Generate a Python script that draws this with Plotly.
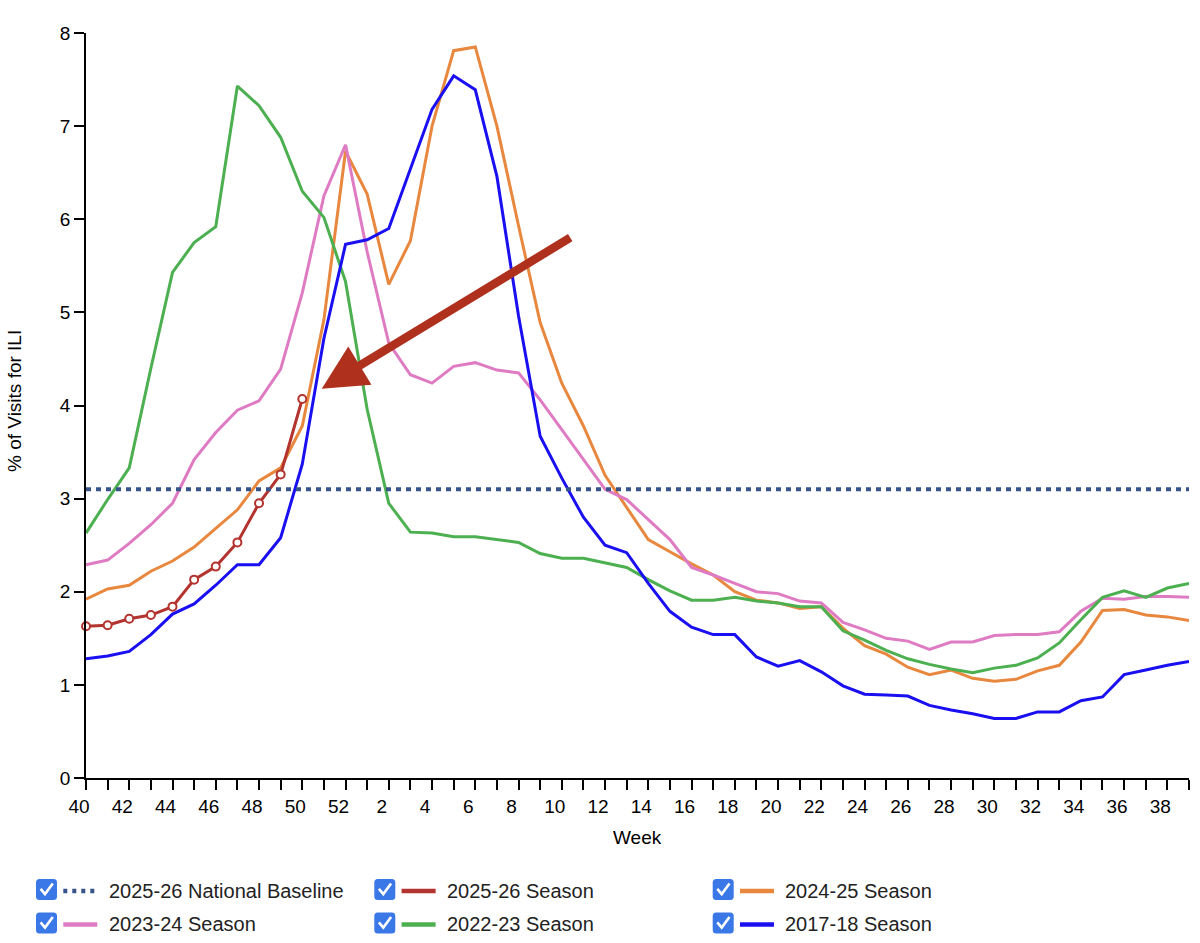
import plotly.graph_objects as go

# x categories: MMWR weeks 40..52 then 1..39
weeks = [str(w) for w in list(range(40, 53)) + list(range(1, 40))]
tick_text = [w if int(w) % 2 == 0 else "" for w in weeks]

baseline_2025_26 = 3.1

season_2025_26 = [1.63, 1.64, 1.71, 1.75, 1.84, 2.13, 2.27, 2.53, 2.95, 3.26, 4.07]

season_2024_25 = [1.92, 2.03, 2.07, 2.22, 2.33, 2.48, 2.68, 2.88, 3.19, 3.33, 3.78,
                  4.92, 6.73, 6.27, 5.30, 5.77, 7.00, 7.81, 7.85, 7.00, 5.93, 4.89,
                  4.24, 3.78, 3.25, 2.91, 2.56, 2.43, 2.30, 2.18, 2.00, 1.91, 1.88,
                  1.82, 1.84, 1.61, 1.42, 1.33, 1.19, 1.11, 1.16, 1.07, 1.04, 1.06,
                  1.15, 1.21, 1.46, 1.80, 1.81, 1.75, 1.73, 1.69]

season_2023_24 = [2.29, 2.34, 2.52, 2.72, 2.95, 3.42, 3.71, 3.95, 4.05, 4.39, 5.21,
                  6.25, 6.80, 5.65, 4.67, 4.33, 4.24, 4.42, 4.46, 4.38, 4.35, 4.06,
                  3.74, 3.42, 3.10, 2.99, 2.77, 2.56, 2.26, 2.18, 2.09, 2.00, 1.98,
                  1.90, 1.88, 1.67, 1.59, 1.50, 1.47, 1.38, 1.46, 1.46, 1.53, 1.54,
                  1.54, 1.57, 1.79, 1.93, 1.92, 1.95, 1.95, 1.94]

season_2022_23 = [2.63, 2.99, 3.33, 4.40, 5.43, 5.75, 5.92, 7.43, 7.22, 6.88, 6.30,
                  6.02, 5.33, 3.96, 2.95, 2.64, 2.63, 2.59, 2.59, 2.56, 2.53, 2.41,
                  2.36, 2.36, 2.31, 2.26, 2.13, 2.01, 1.91, 1.91, 1.94, 1.90, 1.88,
                  1.84, 1.84, 1.58, 1.48, 1.37, 1.28, 1.22, 1.17, 1.13, 1.18, 1.21,
                  1.29, 1.45, 1.70, 1.94, 2.01, 1.94, 2.04, 2.09]

season_2017_18 = [1.28, 1.31, 1.36, 1.54, 1.76, 1.87, 2.07, 2.29, 2.29, 2.58, 3.37,
                  4.72, 5.73, 5.78, 5.90, 6.53, 7.18, 7.54, 7.39, 6.46, 4.96, 3.67,
                  3.22, 2.80, 2.50, 2.42, 2.09, 1.79, 1.62, 1.54, 1.54, 1.30, 1.20,
                  1.26, 1.14, 0.99, 0.90, 0.89, 0.88, 0.78, 0.73, 0.69, 0.64, 0.64,
                  0.71, 0.71, 0.83, 0.87, 1.11, 1.16, 1.21, 1.25]

legend_names = ["2025-26 National Baseline", "2025-26 Season", "2024-25 Season",
                "2023-24 Season", "2022-23 Season", "2017-18 Season"]

COLORS = {
    "2025-26 National Baseline": "#36538a",
    "2025-26 Season": "#b3332e",
    "2024-25 Season": "#e8873e",
    "2023-24 Season": "#df7bc3",
    "2022-23 Season": "#4caf50",
    "2017-18 Season": "#1a0ff0",
}

TICK_FONT = dict(family="Liberation Sans Narrow, Arial Narrow, Liberation Sans, Arial",
                 size=19, color="black")
TEXT_FONT = "Helvetica Neue, Liberation Sans, Arial, sans-serif"

# plot area in page pixels
L, R, T, B = 86, 1189, 33, 778
W, H = 1200, 943


def px(x):
    return (x - L) / (R - L)


def py(y):
    return (B - y) / (B - T)


fig = go.Figure()

series = [
    ("2024-25 Season", season_2024_25),
    ("2023-24 Season", season_2023_24),
    ("2022-23 Season", season_2022_23),
    ("2017-18 Season", season_2017_18),
]
for name, vals in series:
    fig.add_scatter(x=weeks, y=vals, mode="lines", name=name,
                    line=dict(color=COLORS[name], width=3), hoverinfo="x+y+name")

fig.add_scatter(x=weeks[:len(season_2025_26)], y=season_2025_26, mode="lines+markers",
                name="2025-26 Season", cliponaxis=False,
                line=dict(color=COLORS["2025-26 Season"], width=3),
                marker=dict(symbol="circle", size=8, color="white",
                            line=dict(color=COLORS["2025-26 Season"], width=2)))

fig.add_scatter(x=weeks, y=[baseline_2025_26] * len(weeks), mode="lines",
                name="2025-26 National Baseline",
                line=dict(color=COLORS["2025-26 National Baseline"], width=4, dash="5px,5px"))

# big red arrow pointing at the current season
fig.add_annotation(x=10.9, y=4.18, xref="x", yref="y", ax=250, ay=-152,
                   text="", showarrow=True, arrowhead=2, arrowsize=1.05,
                   arrowwidth=8.5, arrowcolor="#b0301e")

# axis titles
fig.add_annotation(x=0.5, y=py(838), xref="paper", yref="paper", text="Week",
                   showarrow=False, xanchor="center", yanchor="middle",
                   font=dict(family=TEXT_FONT, size=19, color="black"))
fig.add_annotation(x=px(14), y=py(401), xref="paper", yref="paper",
                   text="% of Visits for ILI", textangle=-90, showarrow=False,
                   xanchor="center", yanchor="middle",
                   font=dict(family=TEXT_FONT, size=19, color="black"))

# legend with checkboxes, drawn by hand (3 columns x 2 rows)
col_left = [36, 374.3, 712.7]
row_mid = [889.5, 923]
box = 21
for k, name in enumerate(legend_names):
    x0 = col_left[k % 3]
    yc = row_mid[k // 3]
    y0, y1 = yc - box / 2, yc + box / 2
    r = 3.5
    path = (f"M{px(x0 + r)},{py(y0)} L{px(x0 + box - r)},{py(y0)} "
            f"Q{px(x0 + box)},{py(y0)} {px(x0 + box)},{py(y0 + r)} "
            f"L{px(x0 + box)},{py(y1 - r)} "
            f"Q{px(x0 + box)},{py(y1)} {px(x0 + box - r)},{py(y1)} "
            f"L{px(x0 + r)},{py(y1)} Q{px(x0)},{py(y1)} {px(x0)},{py(y1 - r)} "
            f"L{px(x0)},{py(y0 + r)} Q{px(x0)},{py(y0)} {px(x0 + r)},{py(y0)} Z")
    fig.add_shape(type="path", path=path, xref="paper", yref="paper",
                  fillcolor="#3a78e8", line=dict(width=0), layer="above")
    check = (f"M{px(x0 + 4.6)},{py(yc - 0.6)} L{px(x0 + 9)},{py(yc + 4.6)} "
             f"L{px(x0 + 16.8)},{py(yc - 6)}")
    fig.add_shape(type="path", path=check, xref="paper", yref="paper",
                  line=dict(color="white", width=2.6), layer="above")
    dash = "4px,5px" if "Baseline" in name else "solid"
    fig.add_shape(type="line", xref="paper", yref="paper",
                  x0=px(x0 + 27.3), x1=px(x0 + 61.3), y0=py(yc + 1.5), y1=py(yc + 1.5),
                  line=dict(color=COLORS[name], width=4.5, dash=dash))
    fig.add_annotation(x=px(x0 + 70.7), y=py(yc + 1), xref="paper", yref="paper",
                       text=name, showarrow=False, xanchor="left", yanchor="middle",
                       font=dict(family=TEXT_FONT, size=20, color="#222222"))

fig.update_layout(
    width=W, height=H,
    margin=dict(l=L, r=W - R, t=T, b=H - B, pad=0),
    plot_bgcolor="white", paper_bgcolor="white",
    showlegend=False,
    font=dict(family=TEXT_FONT, color="black"),
    xaxis=dict(type="category", range=[0, len(weeks) - 1],
               tickvals=weeks, ticktext=tick_text, tickfont=TICK_FONT,
               ticks="outside", ticklen=10, tickwidth=1.5, tickcolor="black",
               ticklabelshift=-7,
               showline=True, linecolor="black", linewidth=2,
               showgrid=False, zeroline=False),
    yaxis=dict(range=[0, 8], tick0=0, dtick=1, tickfont=TICK_FONT,
               ticks="outside", ticklen=10, tickwidth=1.5, tickcolor="black",
               showline=True, linecolor="black", linewidth=1.5,
               showgrid=False, zeroline=False),
)

fig.write_html("out.html", config={"displayModeBar": False},
               post_script="document.body.style.margin='0';")
